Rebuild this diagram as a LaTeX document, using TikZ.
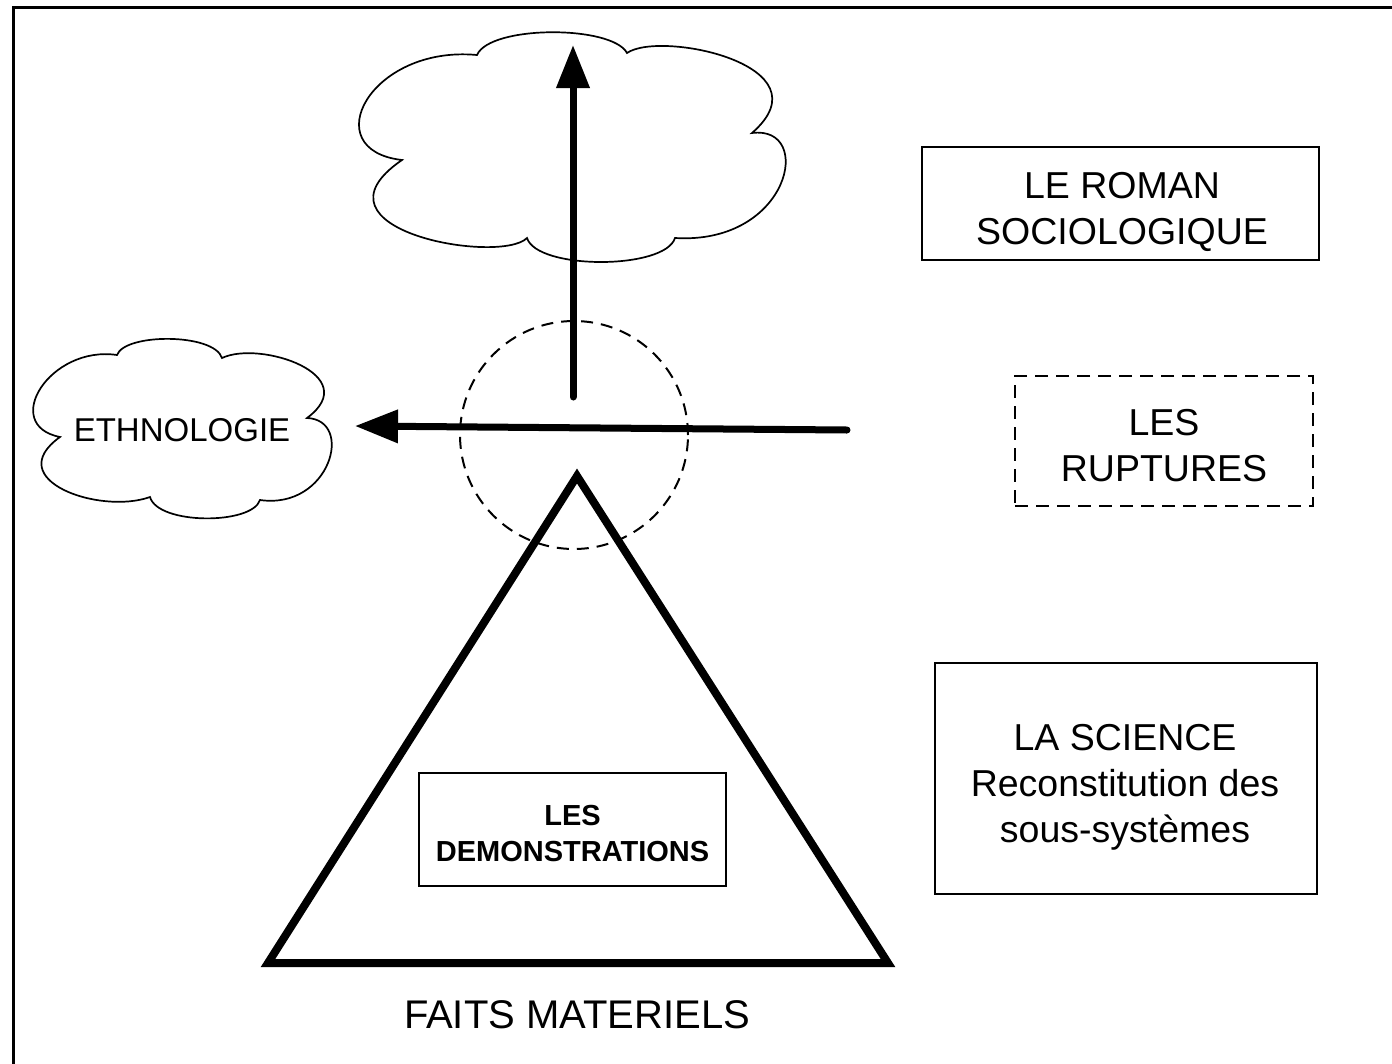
\documentclass[tikz,border=0pt]{standalone}
\usepackage{fontspec}
\setmainfont{Liberation Sans}
\usetikzlibrary{arrows.meta}

\tikzset{
  box/.style={draw, line width=1.8pt, inner sep=0pt},
  boxtext/.style={align=center, inner sep=0pt},
  bigtext/.style={font=\fontsize{37.5}{46}\selectfont},
  cloudline/.style={draw, line width=1.7pt, fill=white, line join=miter},
  thickarrow/.style={line width=7pt, line cap=round, -{Triangle[length=43pt,width=32pt]}},
  ruptbox/.style={box, dash pattern=on 13pt off 8pt},
}

\begin{document}
\begin{tikzpicture}[x=1pt,y=1pt]
\useasboundingbox (0,0) rectangle (1392,-1063);
\clip (0,0) rectangle (1392,-1063);
\fill[white] (0,0) rectangle (1392,-1063);

% outer frame (only the top and left edges lie inside the page)
\draw[line width=3pt] (13.5,-7.5) rectangle (1500,-1200);

% upper cloud
\draw[cloudline] (402,-160) .. controls (315,-150) and (370,-45) .. (477,-55)
  .. controls (490,-25) and (612,-25) .. (627,-53)
  .. controls (660,-30) and (830,-65) .. (752,-133)
  .. controls (815,-125) and (790,-245) .. (675,-238)
  .. controls (665,-270) and (537,-270) .. (527,-238)
  .. controls (500,-265) and (300,-230) .. (402,-160) -- cycle;

% left cloud
\draw[cloudline] (60,-437) .. controls (0,-425) and (50,-345) .. (117,-355)
  .. controls (125,-333) and (214,-333) .. (222,-358)
  .. controls (260,-340) and (365,-375) .. (307,-418)
  .. controls (355,-420) and (330,-510) .. (260,-500)
  .. controls (252,-525) and (158,-525) .. (150,-497)
  .. controls (100,-515) and (0,-480) .. (60,-437) -- cycle;
\node[font=\fontsize{33}{40}\selectfont] (ethno) at (182,-430) {ETHNOLOGIE};

% dashed circle of the crossing
\node[circle, draw, line width=2pt, dash pattern=on 12pt off 8pt,
      minimum size=228pt, inner sep=0pt] (hub) at (574,-435) {};

% triangle
\draw[line width=8pt, line join=miter] (577,-476) -- (888,-963) -- (268,-963) -- cycle;

% arrows
\coordinate (vstart) at (573,-397);
\coordinate (vtip) at (573,-45);
\coordinate (hstart) at (847,-430);
\coordinate (htip) at (355,-426);
\draw[thickarrow] (vstart) -- (vtip);
\draw[thickarrow] (hstart) -- (htip);

% boxes
\node[box, minimum width=397pt, minimum height=113pt] (roman) at (1120.5,-203.5) {};
\node[boxtext, bigtext] (romantext) at (1122,-211.5) {LE ROMAN\\SOCIOLOGIQUE};

\node[ruptbox, minimum width=298pt, minimum height=130pt] (ruptures) at (1164,-441) {};
\node[boxtext, bigtext] (rupttext) at (1164,-445.5) {LES\\RUPTURES};

\node[box, minimum width=382pt, minimum height=231pt] (science) at (1126,-778.5) {};
\node[boxtext, bigtext] (sciencetext) at (1125,-787.5)
  {LA SCIENCE\\Reconstitution des\\sous-systèmes};

\node[box, minimum width=307pt, minimum height=113pt] (demo) at (572.5,-829.5) {};
\node[boxtext, font=\bfseries\fontsize{29}{36}\selectfont] (demotext) at (572.5,-833.5)
  {LES\\DEMONSTRATIONS};

\node[font=\fontsize{40}{48}\selectfont] (faits) at (577,-1015) {FAITS MATERIELS};
\end{tikzpicture}
\end{document}
